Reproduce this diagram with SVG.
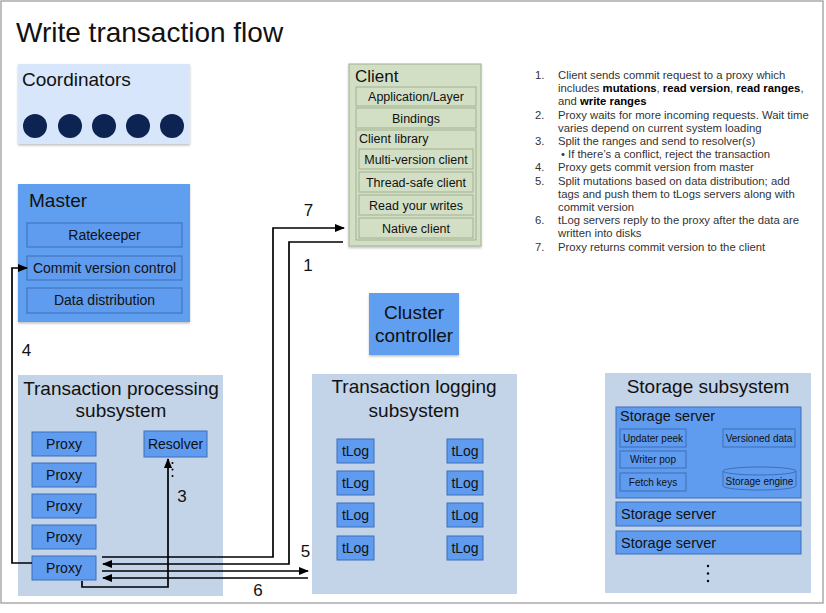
<svg xmlns="http://www.w3.org/2000/svg" width="826" height="613" viewBox="0 0 826 613">
<defs>
<marker id="ah" markerUnits="userSpaceOnUse" markerWidth="10" markerHeight="8" refX="9" refY="4" orient="auto">
<path d="M0,0 L10,4 L0,8 Z" fill="#000"/>
</marker>
<filter id="sh" x="-10%" y="-10%" width="120%" height="130%">
<feDropShadow dx="0" dy="1.5" stdDeviation="1.2" flood-color="#000" flood-opacity="0.25"/>
</filter>
</defs>
<style>
text{font-family:"Liberation Sans",Arial,sans-serif;fill:#111}
.blue{fill:#619ef0}
.sub{fill:#5f9cef;stroke:#3d6fb8;stroke-width:1}
.sys{fill:#c3d3e8}
.cl{fill:#d3dfc5;stroke:#9fb091;stroke-width:1}
.conn{fill:none;stroke:#000;stroke-width:1.7}
.lst{font-size:11.3px;fill:#333}
.c{text-anchor:middle}
.num{font-size:17px}
</style>
<rect x="1" y="1" width="822" height="602" fill="#fff" stroke="#aaa" stroke-width="1.5"/>
<text x="16" y="42" font-size="28">Write transaction flow</text>

<g id="coordinators">
<rect x="18" y="64" width="172" height="80" fill="#d7e6fa" filter="url(#sh)"/>
<text x="22" y="86" font-size="19">Coordinators</text>
<g fill="#0d2352">
<circle cx="35" cy="126" r="12"/><circle cx="70" cy="126" r="12"/><circle cx="104" cy="126" r="12"/><circle cx="138" cy="126" r="12"/><circle cx="172" cy="126" r="12"/>
</g>
</g>

<g id="master">
<rect x="18" y="184" width="172" height="138" class="blue" filter="url(#sh)"/>
<text x="29" y="207" font-size="19">Master</text>
<rect x="27" y="223" width="155" height="24" class="sub"/>
<text x="104.5" y="240" font-size="14" class="c">Ratekeeper</text>
<rect x="27" y="256" width="155" height="24" class="sub"/>
<text x="104.5" y="273" font-size="14" class="c">Commit version control</text>
<rect x="27" y="288" width="155" height="25" class="sub"/>
<text x="104.5" y="305" font-size="14" class="c">Data distribution</text>
</g>

<g id="client">
<rect x="349" y="64" width="132" height="182" class="cl" filter="url(#sh)"/>
<text x="355" y="82" font-size="17">Client</text>
<rect x="356" y="87" width="120" height="19" class="cl"/>
<text x="416" y="101" font-size="12.5" class="c">Application/Layer</text>
<rect x="356" y="108" width="120" height="20" class="cl"/>
<text x="416" y="122.5" font-size="12.5" class="c">Bindings</text>
<rect x="356" y="130" width="120" height="110" class="cl"/>
<text x="359" y="143" font-size="12.5">Client library</text>
<rect x="359" y="149" width="114" height="20" class="cl"/>
<text x="416" y="163.5" font-size="12.5" class="c">Multi-version client</text>
<rect x="359" y="172" width="114" height="20" class="cl"/>
<text x="416" y="186.5" font-size="12.5" class="c">Thread-safe client</text>
<rect x="359" y="195" width="114" height="20" class="cl"/>
<text x="416" y="209.5" font-size="12.5" class="c">Read your writes</text>
<rect x="359" y="218" width="114" height="20" class="cl"/>
<text x="416" y="232.5" font-size="12.5" class="c">Native client</text>
</g>

<g id="steps">
<text class="lst" x="535" y="79">1.</text><text class="lst" x="558" y="79">Client sends commit request to a proxy which</text>
<text class="lst" x="558" y="92">includes <tspan font-weight="bold" fill="#000">mutations</tspan>, <tspan font-weight="bold" fill="#000">read version</tspan>, <tspan font-weight="bold" fill="#000">read ranges</tspan>,</text>
<text class="lst" x="558" y="105">and <tspan font-weight="bold" fill="#000">write ranges</tspan></text>
<text class="lst" x="535" y="118.5">2.</text><text class="lst" x="558" y="118.5">Proxy waits for more incoming requests. Wait time</text>
<text class="lst" x="558" y="131.5">varies depend on current system loading</text>
<text class="lst" x="535" y="145">3.</text><text class="lst" x="558" y="145">Split the ranges and send to resolver(s)</text>
<text class="lst" x="561" y="158">•</text><text class="lst" x="568" y="158">If there’s a conflict, reject the transaction</text>
<text class="lst" x="535" y="171">4.</text><text class="lst" x="558" y="171">Proxy gets commit version from master</text>
<text class="lst" x="535" y="184.5">5.</text><text class="lst" x="558" y="184.5">Split mutations based on data distribution; add</text>
<text class="lst" x="558" y="197.5">tags and push them to tLogs servers along with</text>
<text class="lst" x="558" y="211">commit version</text>
<text class="lst" x="535" y="224">6.</text><text class="lst" x="558" y="224">tLog servers reply to the proxy after the data are</text>
<text class="lst" x="558" y="237">written into disks</text>
<text class="lst" x="535" y="250.5">7.</text><text class="lst" x="558" y="250.5">Proxy returns commit version to the client</text>
</g>

<g id="cluster-controller">
<rect x="369" y="293" width="90" height="62" class="blue" filter="url(#sh)"/>
<text x="414" y="319" font-size="19" class="c">Cluster</text>
<text x="414" y="342" font-size="19" class="c">controller</text>
</g>

<g id="transaction-processing">
<rect x="18" y="375" width="205" height="221" class="sys"/>
<text x="121" y="395" font-size="19" class="c">Transaction processing</text>
<text x="121" y="417" font-size="19" class="c">subsystem</text>
<g id="proxy1"><rect x="32" y="432" width="64" height="24" class="sub"/><text x="64" y="449" font-size="14" class="c">Proxy</text></g>
<g id="proxy2"><rect x="32" y="463" width="64" height="24" class="sub"/><text x="64" y="480" font-size="14" class="c">Proxy</text></g>
<g id="proxy3"><rect x="32" y="494" width="64" height="24" class="sub"/><text x="64" y="511" font-size="14" class="c">Proxy</text></g>
<g id="proxy4"><rect x="32" y="525" width="64" height="24" class="sub"/><text x="64" y="542" font-size="14" class="c">Proxy</text></g>
<g id="proxy5"><rect x="32" y="556" width="64" height="24" class="sub"/><text x="64" y="573" font-size="14" class="c">Proxy</text></g>
<g id="resolver"><rect x="144" y="431" width="63" height="26" class="sub"/><text x="175.5" y="449" font-size="14" class="c">Resolver</text></g>
<g fill="#000"><circle cx="172.5" cy="463" r="1"/><circle cx="172.5" cy="469.5" r="1"/><circle cx="172.5" cy="476" r="1"/></g>
</g>

<g id="transaction-logging">
<rect x="312" y="374" width="205" height="220" class="sys"/>
<text x="414" y="393" font-size="19" class="c">Transaction logging</text>
<text x="414" y="417" font-size="19" class="c">subsystem</text>
<g font-size="14">
<rect x="337" y="439" width="37" height="24" class="sub"/><text x="355.5" y="456" font-size="14" class="c">tLog</text>
<rect x="337" y="471" width="37" height="24" class="sub"/><text x="355.5" y="488" font-size="14" class="c">tLog</text>
<rect x="337" y="503" width="37" height="24" class="sub"/><text x="355.5" y="520" font-size="14" class="c">tLog</text>
<rect x="337" y="536" width="37" height="24" class="sub"/><text x="355.5" y="553" font-size="14" class="c">tLog</text>
<rect x="447" y="439" width="36" height="24" class="sub"/><text x="465" y="456" font-size="14" class="c">tLog</text>
<rect x="447" y="471" width="36" height="24" class="sub"/><text x="465" y="488" font-size="14" class="c">tLog</text>
<rect x="447" y="503" width="36" height="24" class="sub"/><text x="465" y="520" font-size="14" class="c">tLog</text>
<rect x="447" y="536" width="36" height="24" class="sub"/><text x="465" y="553" font-size="14" class="c">tLog</text>
</g>
</g>

<g id="storage">
<rect x="605" y="373" width="206" height="220" class="sys"/>
<text x="708" y="393" font-size="19" class="c">Storage subsystem</text>
<g id="storage-server1">
<rect x="616" y="407" width="185" height="91" class="sub"/>
<text x="620" y="421" font-size="14.5">Storage server</text>
<rect x="620" y="429" width="66" height="18" class="sub"/><text x="653" y="441.5" font-size="10" class="c">Updater peek</text>
<rect x="620" y="451" width="66" height="17" class="sub"/><text x="653" y="463" font-size="10" class="c">Writer pop</text>
<rect x="620" y="473" width="66" height="18" class="sub"/><text x="653" y="485.5" font-size="10" class="c">Fetch keys</text>
<rect x="723" y="429" width="72" height="18" class="sub"/><text x="759" y="441.5" font-size="10" class="c">Versioned data</text>
<path d="M723,471 L723,486 A36.5,4 0 0 0 796,486 L796,471" class="sub"/>
<ellipse cx="759.5" cy="471" rx="36.5" ry="4" class="sub"/>
<text x="759.5" y="485" font-size="10" class="c">Storage engine</text>
</g>
<g id="storage-server2"><rect x="616" y="502" width="185" height="24" class="sub"/><text x="621" y="519" font-size="14.5">Storage server</text></g>
<g id="storage-server3"><rect x="616" y="531" width="185" height="23" class="sub"/><text x="621" y="548" font-size="14.5">Storage server</text></g>
<g fill="#000"><circle cx="708" cy="566" r="1.2"/><circle cx="708" cy="573.5" r="1.2"/><circle cx="708" cy="581" r="1.2"/></g>
</g>

<g id="connectors">
<path class="conn" d="M102,557 H273 V228 H344" marker-end="url(#ah)"/>
<path class="conn" d="M343,242 H289 V564 H103" marker-end="url(#ah)"/>
<path class="conn" d="M102,571 H308" marker-end="url(#ah)"/>
<path class="conn" d="M308,578 H103" marker-end="url(#ah)"/>
<path class="conn" d="M82,581 V587 H168 V459" marker-end="url(#ah)"/>
<path class="conn" d="M32,563 H12 V268 H27" marker-end="url(#ah)"/>
<text class="num" x="308.5" y="216" text-anchor="middle">7</text>
<text class="num" x="308" y="271" text-anchor="middle">1</text>
<text class="num" x="305.5" y="557" text-anchor="middle">5</text>
<text class="num" x="258" y="596" text-anchor="middle">6</text>
<text class="num" x="26.5" y="356" text-anchor="middle">4</text>
<text class="num" x="182" y="502" text-anchor="middle">3</text>
</g>
</svg>
